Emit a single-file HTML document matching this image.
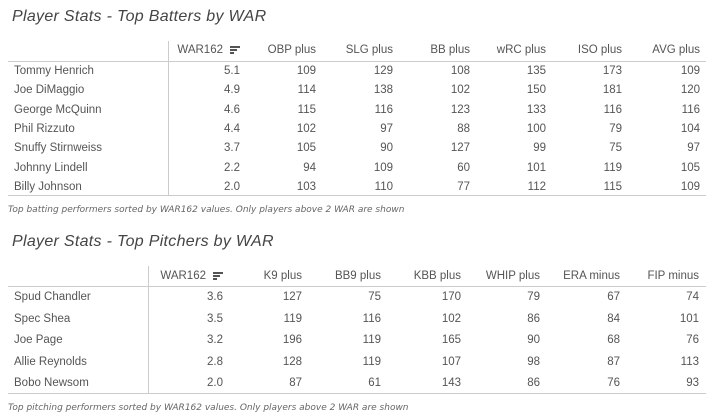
<!DOCTYPE html>
<html><head><meta charset="utf-8"><style>
body{margin:0;width:714px;height:420px;background:#fff;font-family:"Liberation Sans","DejaVu Sans",sans-serif;color:#555;position:relative;overflow:hidden}
.t{position:absolute;font-size:11.5px;white-space:nowrap;line-height:14px}
.r{text-align:right}
.h{position:absolute;height:1px;background:#ccc}
.v{position:absolute;width:1px;background:#ccc}
.title{position:absolute;font-size:16px;color:#444;font-family:"Liberation Sans",sans-serif;font-style:italic;font-weight:normal;letter-spacing:0.3px}
.cap{position:absolute;font-size:9px;color:#666;font-style:italic;font-family:"DejaVu Sans",sans-serif}
.sort{display:inline-block;vertical-align:middle;margin-left:7px;width:10px}
.sort i{display:block;height:1.5px;background:#555;margin:1.5px 0}
</style></head><body>
<div class="title" style="left:12px;top:8px">Player Stats - Top Batters by WAR</div>
<div class="h" style="left:8px;top:61px;width:698px"></div>
<div class="h" style="left:8px;top:195px;width:698px"></div>
<div class="v" style="left:168px;top:41px;height:154px"></div>
<div id="t1"></div>
<div class="cap" style="left:8px;top:205px">Top batting performers sorted by WAR162 values. Only players above 2 WAR are shown</div>

<div class="title" style="left:12px;top:233px">Player Stats - Top Pitchers by WAR</div>
<div class="h" style="left:8px;top:286px;width:698px"></div>
<div class="h" style="left:8px;top:393px;width:698px"></div>
<div class="v" style="left:148px;top:266px;height:127px"></div>
<div id="t2"></div>
<div class="cap" style="left:8px;top:403px">Top pitching performers sorted by WAR162 values. Only players above 2 WAR are shown</div>
<script>
function build(id,heads,rights,rows,hy,y0,dy){
 var el=document.getElementById(id),s='';
 heads.forEach(function(h,i){
  if(i==0){s+='<div class="t r" style="right:'+(714-rights[0])+'px;top:'+hy+'px">'+h+'<span class="sort"><i style="width:10px"></i><i style="width:7px"></i><i style="width:4px"></i></span></div>';}
  else s+='<div class="t r" style="right:'+(714-rights[i])+'px;top:'+hy+'px">'+h+'</div>';
 });
 rows.forEach(function(r,j){
  var y=y0+j*dy;
  s+='<div class="t" style="left:14px;top:'+y+'px">'+r[0]+'</div>';
  for(var i=1;i<r.length;i++)s+='<div class="t r" style="right:'+(714-rights[i-1])+'px;top:'+y+'px">'+r[i]+'</div>';
 });
 el.innerHTML=s;
}
build('t1',['WAR162','OBP plus','SLG plus','BB plus','wRC plus','ISO plus','AVG plus'],[240,316,393,470,546,622,700],[
['Tommy Henrich','5.1',109,129,108,135,173,109],
['Joe DiMaggio','4.9',114,138,102,150,181,120],
['George McQuinn','4.6',115,116,123,133,116,116],
['Phil Rizzuto','4.4',102,97,88,100,79,104],
['Snuffy Stirnweiss','3.7',105,90,127,99,75,97],
['Johnny Lindell','2.2',94,109,60,101,119,105],
['Billy Johnson','2.0',103,110,77,112,115,109]],43,64,19.3);
build('t2',['WAR162','K9 plus','BB9 plus','KBB plus','WHIP plus','ERA minus','FIP minus'],[223,302,381,461,540,620,699],[
['Spud Chandler','3.6',127,75,170,79,67,74],
['Spec Shea','3.5',119,116,102,86,84,101],
['Joe Page','3.2',196,119,165,90,68,76],
['Allie Reynolds','2.8',128,119,107,98,87,113],
['Bobo Newsom','2.0',87,61,143,86,76,93]],269,290,21.5);
</script>
</body></html>
